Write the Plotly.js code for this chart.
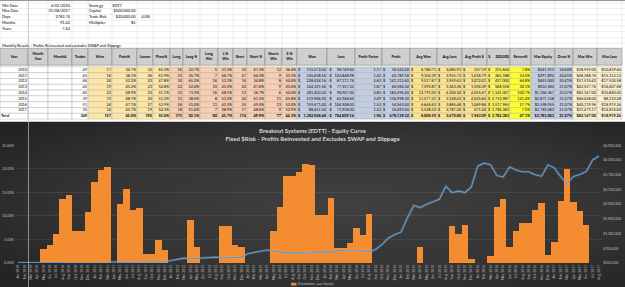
<!DOCTYPE html>
<html>
<head>
<meta charset="utf-8">
<script src="https://cdn.plot.ly/plotly-3.0.1.min.js"></script>
<style>
  html, body { margin: 0; padding: 0; background: #ffffff; }
  #chart { width: 625px; height: 287px; }
</style>
</head>
<body>
<div id="chart"></div>
<script>
// ---------- run summary ----------
const infoLabels = ['Min Date', 'Max Date', 'Days', 'Months', 'Years'];
const infoValues = ['4/01/2010', '31/08/2017', '2783.74', '91.42', '7.62'];
const setupLabels = ['Strategy', 'Capital', 'Trade Risk', 'Multiplier'];
const setupValues = ['EDTT', '$500,000.00', '$20,000.00', '$5'];
const tradeRiskPct = '4.0%';

// ---------- yearly results ----------
const years = [2010, 2011, 2012, 2013, 2014, 2015, 2016, 2017];
const trades = [49, 42, 46, 42, 45, 39, 51, 35];
const wins = [17, 16, 24, 19, 22, 19, 24, 16];
const losses = [32, 26, 22, 23, 23, 20, 27, 19];
const longTrades = [16, 15, 30, 22, 33, 15, 26, 18];
const longWins = [5, 7, 16, 10, 16, 8, 11, 7];
const shortTrades = [33, 27, 16, 20, 12, 24, 25, 17];
const shortWins = [12, 9, 8, 9, 6, 11, 13, 9];
const grossWon = [115272.00, 145638.16, 228424.16, 144321.56, 281403.20, 219966.90, 159471.00, 88451.50];
const grossLoss = [-98749.60, -102848.98, -87111.76, -77357.22, -98907.00, -62968.60, -104908.00, -71958.00];
const balance200k = [215600, 265188, 437000, 568558, 1141007, 2753987, 3517965, 3782383];
const totalReturnPct = 47.1;
const maxEquity = [241913, 297890, 445000, 610584, 1166367, 2871128, 3598955, 3783083];
const maxDrawPct = [14.60, 20.41, 20.41, 21.07, 21.07, 21.07, 21.07, 21.07];
const maxWin = [28959.00, 48288.76, 51510.42, 42557.76, 82167.00, 66028.00, 40119.96, 21475.17];
const maxLoss = [-10839.60, -15312.12, -17524.58, -16607.68, -10840.00, -8210.28, -18919.26, -14816.60];

const headers = ['Year', 'Month<br>Year', 'Month#', 'Trades', 'Wins', 'Pwin%', 'Losses', 'Ploss%',
  'Long', 'Long %', 'Long<br>Win', 'L %<br>Win', 'Short', 'Short %', 'Shorts<br>Win', 'S %<br>Win',
  'Won', 'Loss', 'Profit Factor', 'Profit', 'Avg Won', 'Avg Loss', 'Avg Profit $', '$      200,000',
  'Return%', 'Max Equity', 'Draw %', 'Max Win', 'Max Loss'];

// ---------- monthly equity curve ----------
const months = [
  'Jan 2010','Feb 2010','Mar 2010','Apr 2010','May 2010','Jun 2010','Jul 2010','Aug 2010','Sep 2010','Oct 2010','Nov 2010','Dec 2010',
  'Jan 2011','Feb 2011','Mar 2011','Apr 2011','May 2011','Jun 2011','Jul 2011','Aug 2011','Sep 2011','Oct 2011','Nov 2011','Dec 2011',
  'Jan 2012','Feb 2012','Mar 2012','Apr 2012','May 2012','Jun 2012','Jul 2012','Aug 2012','Sep 2012','Oct 2012','Nov 2012','Dec 2012',
  'Jan 2013','Feb 2013','Mar 2013','Apr 2013','May 2013','Jun 2013','Jul 2013','Aug 2013','Sep 2013','Oct 2013','Nov 2013','Dec 2013',
  'Jan 2014','Feb 2014','Mar 2014','Apr 2014','May 2014','Jun 2014','Jul 2014','Aug 2014','Sep 2014','Oct 2014','Nov 2014','Dec 2014',
  'Jan 2015','Feb 2015','Mar 2015','Apr 2015','May 2015','Jun 2015','Jul 2015','Aug 2015','Sep 2015','Oct 2015','Nov 2015','Dec 2015',
  'Jan 2016','Feb 2016','Mar 2016','Apr 2016','May 2016','Jun 2016','Jul 2016','Aug 2016','Sep 2016','Oct 2016','Nov 2016','Dec 2016',
  'Jan 2017','Feb 2017','Mar 2017','Apr 2017','May 2017','Jun 2017','Jul 2017','Aug 2017'
];
const drawdownPct = [
  0, 0, 0, 0, 3.0, 3.9, 6.1, 13.6, 14.5, 6.7, 6.7, 10.8,
  17.1, 19.8, 20.3, 0, 12.5, 15.7, 11.3, 11.7, 1.9, 1.9, 4.9, 2.8,
  0, 0, 0, 9.1, 3.3, 0, 0, 0, 7.9, 7.9, 3.9, 3.3,
  0, 0, 0, 0, 6.9, 11.9, 18.4, 18.4, 19.3, 21.0, 20.8, 10.3,
  10.3, 13.8, 3.2, 3.2, 4.2, 7.4, 6.0, 10.5, 0, 0, 0, 0,
  0, 0, 0, 3.5, 0, 0, 0, 0, 7.9, 6.2, 8.1, 0.9,
  0, 0, 1.4, 12.0, 13.5, 3.5, 6.7, 8.4, 8.4, 11.2, 12.7, 1.6,
  4.5, 13.1, 20.0, 12.9, 11.0, 8.1, 0, 0
];
const equity = [
  108000, 114000, 121000, 128000, 124000, 123000, 120000, 111000, 109000, 119000, 119000, 114000,
  106000, 103000, 102000, 150000, 131000, 126000, 133000, 132000, 147000, 147000, 143000, 146000,
  200000, 255000, 300000, 273000, 290000, 320000, 330000, 340000, 313000, 313000, 327000, 329000,
  480000, 540000, 585000, 630000, 587000, 555000, 514000, 514000, 508000, 498000, 499000, 565000,
  565000, 543000, 610000, 610000, 604000, 583000, 592000, 564000, 650000, 850000, 1120000, 1260000,
  1360000, 1950000, 2450000, 2360000, 2500000, 2600000, 2700000, 3230000, 2970000, 3030000, 2970000, 3200000,
  4050000, 4170000, 4110000, 3670000, 3610000, 4020000, 3890000, 3820000, 3820000, 3700000, 3640000, 4100000,
  3980000, 3620000, 3340000, 3630000, 3710000, 3830000, 4300000, 4460000
];

// ---------- sheet geometry (pixel grid of the page) ----------
const W = 625, H = 287;
const FONT = 'Lato, "Liberation Sans", sans-serif';
const colEdges = [0, 28, 48, 72, 88, 112, 137, 153, 170, 183, 200, 218, 233, 247, 265, 282, 297,
  327, 355, 382, 410, 437, 462, 487, 510, 531, 555, 573, 597, 622];
const headTop = 48.3, headBot = 65.2, rowTop = 66.9, rowH = 5.8;
const chartTop = 121.5;

const C_WHITE = '#ffffff', C_YEL = '#fde6a6', C_SAL = '#f8cdb0', C_BLUE = '#c3cde2',
      C_GOLD = '#fde28c', C_BRIGHT = '#fff35a', C_YY = '#ffff2e', C_CREAM = '#fff2cc';
const colFill = [C_WHITE, C_WHITE, C_WHITE, C_WHITE, C_YEL, C_YEL, C_YEL, C_YEL,
  C_SAL, C_SAL, C_SAL, C_SAL, C_SAL, C_SAL, C_SAL, C_SAL,
  C_BLUE, C_BLUE, C_BLUE, C_BLUE, C_GOLD, C_GOLD, C_GOLD, C_BRIGHT, C_YY,
  C_BLUE, C_BLUE, C_CREAM, C_CREAM];

const shapes = [];
function rect(x0, y0, x1, y1, fill, lineColor, lw, layer) {
  shapes.push({ type: 'rect', xref: 'x3', yref: 'y3', x0, y0, x1, y1,
    fillcolor: fill, line: { color: lineColor, width: lw }, layer: layer || 'below' });
}
function line(x0, y0, x1, y1, color, lw, layer) {
  shapes.push({ type: 'line', xref: 'x3', yref: 'y3', x0, y0, x1, y1,
    line: { color, width: lw }, layer: layer || 'below' });
}

// text collected by alignment
const T = { L: { x: [], y: [], t: [], s: [], c: [] }, C: { x: [], y: [], t: [], s: [], c: [] }, R: { x: [], y: [], t: [], s: [], c: [] } };
function put(al, x, y, t, size, color) {
  T[al].x.push(x); T[al].y.push(y); T[al].t.push(t); T[al].s.push(size || 3.8); T[al].c.push(color || '#000000');
}

// spreadsheet gridlines above the table
const sheetRows = [2.8, 8.6, 14.4, 20.1, 25.9, 31.6, 37.4, 43.1];
sheetRows.forEach(y => line(0, y, W, y, '#dcdcdc', 0.5));
colEdges.forEach(x => line(x, 0, x, headTop, '#dcdcdc', 0.5));
colEdges.forEach(x => line(x, headBot, x, rowTop, '#dcdcdc', 0.5));
colEdges.forEach(x => line(x, rowTop + rowH * 9, x, chartTop, '#dcdcdc', 0.5));
line(0, 0.4, W, 0.4, '#6a6a6a', 0.8);

// summary block
const infoY = [5.7, 11.5, 17.3, 23.0, 28.7];
infoLabels.forEach((l, i) => put('L', 2, infoY[i], l, 3.9));
infoValues.forEach((v, i) => put('R', 70, infoY[i], v, 3.9));
setupLabels.forEach((l, i) => put('L', 89, infoY[i], l, 3.9));
put('L', 112.5, infoY[0], setupValues[0], 3.9);
for (let i = 1; i < setupValues.length; i++) put('R', 135.5, infoY[i], setupValues[i], 3.9);
put('R', 150, infoY[2], tradeRiskPct, 3.9);
put('L', 2, 45.7, 'Monthly Results - Profits Reinvested and excludes SWAP and Slippage', 3.9);

// header row
const nCols = colEdges.length - 1;
for (let c = 0; c < nCols; c++) {
  rect(colEdges[c], headTop, colEdges[c + 1], headBot, '#d0cece', '#8a8a8a', 0.6);
  put('C', (colEdges[c] + colEdges[c + 1]) / 2, (headTop + headBot) / 2, '<b>' + headers[c] + '</b>', 3.6);
}

// number formatting
const f2 = v => Math.abs(v).toLocaleString('en-US', { minimumFractionDigits: 2, maximumFractionDigits: 2 });
const f0 = v => Math.abs(v).toLocaleString('en-US', { maximumFractionDigits: 0 });
const pc = (a, b) => (b ? (a / b * 100).toFixed(1) : '0.0') + '%';
const sum = a => a.reduce((s, v) => s + v, 0);

function rowCells(r) {
  // each cell: [leftText, rightText]
  return [
    [r.label, r.year], ['', ''], ['', ''],
    ['', String(r.trades)], ['', String(r.wins)], ['', pc(r.wins, r.trades)],
    ['', String(r.losses)], ['', pc(r.losses, r.trades)],
    ['', String(r.longs)], ['', pc(r.longs, r.trades)],
    ['', String(r.longWins)], ['', pc(r.longWins, r.longs)],
    ['', String(r.shorts)], ['', pc(r.shorts, r.trades)],
    ['', String(r.shortWins)], ['', pc(r.shortWins, r.shorts)],
    ['$', f2(r.won)], ['-$', f2(r.loss)], ['', (r.won / Math.abs(r.loss)).toFixed(2)],
    ['$', f2(r.won + r.loss)], ['$', f2(r.won / r.wins)], ['$', f2(Math.abs(r.loss) / r.losses)],
    ['$', f2((r.won + r.loss) / r.trades)], ['$', f0(r.bal)], ['', r.ret.toFixed(1) + '%'],
    ['', '$' + f0(r.maxEq)], ['', r.dd.toFixed(2) + '%'], ['', '$' + f2(r.maxWin)], ['', '-$' + f2(r.maxLoss)]
  ];
}

const rows = years.map((y, i) => ({
  label: '', year: String(y), trades: trades[i], wins: wins[i], losses: losses[i],
  longs: longTrades[i], longWins: longWins[i], shorts: shortTrades[i], shortWins: shortWins[i],
  won: grossWon[i], loss: grossLoss[i], bal: balance200k[i],
  ret: (balance200k[i] / (i ? balance200k[i - 1] : 200000) - 1) * 100,
  maxEq: maxEquity[i], dd: maxDrawPct[i], maxWin: maxWin[i], maxLoss: maxLoss[i], bold: false
}));
rows.push({
  label: 'Total', year: '', trades: sum(trades), wins: sum(wins), losses: sum(losses),
  longs: sum(longTrades), longWins: sum(longWins), shorts: sum(shortTrades), shortWins: sum(shortWins),
  won: sum(grossWon), loss: sum(grossLoss), bal: balance200k[balance200k.length - 1], ret: totalReturnPct,
  maxEq: Math.max(...maxEquity), dd: Math.max(...maxDrawPct), maxWin: Math.max(...maxWin),
  maxLoss: Math.min(...maxLoss), bold: true
});

rows.forEach((r, ri) => {
  const y0 = rowTop + rowH * ri, y1 = y0 + rowH, yc = (y0 + y1) / 2;
  const cells = rowCells(r);
  for (let c = 0; c < nCols; c++) {
    rect(colEdges[c], y0, colEdges[c + 1], y1, colFill[c], '#a9a9a9', 0.4);
    const b = s => (r.bold && s ? '<b>' + s + '</b>' : s);
    if (cells[c][0]) put('L', colEdges[c] + 1, yc, b(cells[c][0]));
    if (cells[c][1]) put('R', colEdges[c + 1] - 1, yc, b(cells[c][1]));
  }
});

// frozen pane divider running down the sheet
line(28.5, 0, 28.5, H, 'rgba(190,190,190,0.85)', 0.8, 'above');

// legend for the chart
put('L', 297.8, 284.2, 'Drawdown', 3.5, '#bfbfbf');
put('L', 323.6, 284.2, 'Equity', 3.5, '#bfbfbf');
rect(291, 282.8, 296.5, 285.6, '#f28a30', '#f28a30', 0, 'above');
line(316.5, 284.2, 322.5, 284.2, '#5b9bd5', 1.2, 'above');

// chart background
const bgH = H - chartTop;
const bgSvg = '<svg xmlns="http://www.w3.org/2000/svg" width="625" height="' + bgH + '" viewBox="0 0 625 ' + bgH + '" preserveAspectRatio="none">' +
  '<defs><radialGradient id="g" cx="0.55" cy="0.5" r="0.7">' +
  '<stop offset="0" stop-color="#404040"/><stop offset="0.6" stop-color="#343434"/><stop offset="1" stop-color="#232323"/>' +
  '</radialGradient></defs><rect width="625" height="' + bgH + '" fill="url(#g)"/></svg>';

const textTrace = (al, pos) => ({
  type: 'scatter', mode: 'text', xaxis: 'x3', yaxis: 'y3', x: T[al].x, y: T[al].y, text: T[al].t,
  textposition: pos, textfont: { family: FONT, size: T[al].s, color: T[al].c },
  hoverinfo: 'skip', showlegend: false, cliponaxis: false
});

const tickFont = { family: FONT, size: 3.5, color: '#bfbfbf' };

const data = [
  {
    type: 'bar', name: 'Drawdown', x: months, y: drawdownPct, xaxis: 'x', yaxis: 'y',
    marker: { color: '#f48c32', line: { width: 0 } }, hoverinfo: 'skip', showlegend: false
  },
  {
    type: 'scatter', mode: 'lines', name: 'Equity glow', x: months, y: equity, xaxis: 'x', yaxis: 'y2',
    line: { color: 'rgba(225,225,225,0.16)', width: 2.6 }, hoverinfo: 'skip', showlegend: false
  },
  {
    type: 'scatter', mode: 'lines', name: 'Equity', x: months, y: equity, xaxis: 'x', yaxis: 'y2',
    line: { color: '#5b9bd5', width: 1.1 }, hoverinfo: 'skip', showlegend: false
  },
  textTrace('L', 'middle right'),
  textTrace('C', 'middle center'),
  textTrace('R', 'middle left')
];

const layout = {
  width: W, height: H,
  margin: { l: 0, r: 0, t: 0, b: 0 },
  paper_bgcolor: '#ffffff', plot_bgcolor: 'rgba(0,0,0,0)',
  font: { family: FONT },
  showlegend: false,
  bargap: 0,
  title: {
    text: 'Breakout Systems (EDTT) - Equity Curve<br>Fixed $Risk - Profits Reinvested and Excludes SWAP and Slippage',
    font: { family: FONT, size: 6, color: '#d9d9d9', weight: 'bold' },
    x: 0.5, xanchor: 'center', y: 1 - 133 / H, yanchor: 'middle'
  },
  xaxis: {
    domain: [14.8 / W, 602.2 / W], anchor: 'y', type: 'category', range: [-0.5, months.length - 0.5],
    tickmode: 'array', tickvals: months, ticktext: months, tickangle: -90, tickfont: tickFont,
    showgrid: false, zeroline: false, showline: false, ticks: '', automargin: false, fixedrange: true
  },
  yaxis: {
    domain: [24 / H, 141.7 / H], anchor: 'x', range: [0, 25], tick0: 0, dtick: 5,
    tickformat: '.2f', ticksuffix: '%', tickfont: tickFont,
    gridcolor: 'rgba(255,255,255,0.13)', gridwidth: 0.6, zeroline: false, showline: false,
    ticks: '', automargin: false, fixedrange: true
  },
  yaxis2: {
    overlaying: 'y', side: 'right', anchor: 'x', range: [100000, 4900000], tick0: 100000, dtick: 600000,
    tickprefix: '$', tickformat: ',.0f', tickfont: tickFont, showgrid: false, zeroline: false,
    showline: false, ticks: '', automargin: false, fixedrange: true
  },
  xaxis3: { domain: [0, 1], anchor: 'y3', range: [0, W], visible: false, fixedrange: true },
  yaxis3: { domain: [0, 1], anchor: 'x3', range: [H, 0], visible: false, fixedrange: true },
  images: [{
    source: 'data:image/svg+xml;charset=utf-8,' + encodeURIComponent(bgSvg),
    xref: 'paper', yref: 'paper', x: 0, y: 1 - chartTop / H, sizex: 1, sizey: bgH / H,
    xanchor: 'left', yanchor: 'top', sizing: 'stretch', layer: 'below'
  }],
  shapes: shapes
};

Plotly.newPlot('chart', data, layout, { staticPlot: true, displayModeBar: false });
</script>
</body>
</html>
